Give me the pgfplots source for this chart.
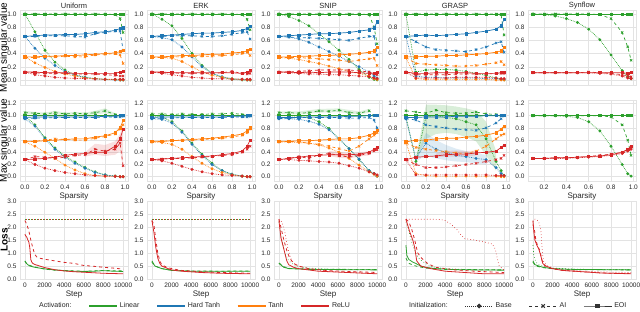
\documentclass[border=0pt]{standalone}
\usepackage{pgfplots}
\pgfplotsset{compat=1.18}
\usepackage{pgfplotstable}
\usepackage{fontspec}
\setmainfont{Liberation Sans}
\definecolor{cL}{HTML}{2CA02C}
\definecolor{cH}{HTML}{1F77B4}
\definecolor{cT}{HTML}{FF7F0E}
\definecolor{cR}{HTML}{D62728}

\pgfplotsset{
 every axis title shift=0pt,
 bas/.style={line width=0.7pt, densely dotted, mark=*, mark size=1.1pt, mark options={solid}},
 ai/.style={line width=0.7pt, dashed, mark=x, mark size=1.6pt, mark options={solid}},
 eo/.style={line width=0.7pt, solid, mark=square*, mark size=1.1pt},
 lb/.style={line width=0.7pt, dash pattern=on 0.6pt off 2.4pt},
 la/.style={line width=0.8pt, dashed},
 le/.style={line width=0.8pt, solid},
 panel/.style={scale only axis, width=108pt, anchor=south west,
   grid=major, major grid style={gray!22, line width=0.5pt},
   axis line style={gray!22}, tick style={draw=none},
   ticklabel style={font=\fontsize{6.5}{7}\selectfont, text=black!85},
   /pgf/number format/assume math mode=true,
   label style={font=\fontsize{8}{9}\selectfont, text=black!85},
   every axis y label/.style={at={(axis description cs:-0.145,0.5)}, anchor=center, rotate=90},
   title style={font=\fontsize{7.5}{8}\selectfont, inner sep=0pt, anchor=south, yshift=1.2pt, text=black!85},
   yticklabel style={/pgf/number format/.cd, fixed, fixed zerofill, precision=1},
 },
 sx/.style={xmin=-0.049, xmax=1.029, xtick={0,0.2,0.4,0.6,0.8,1},
   xticklabel style={/pgf/number format/.cd, fixed, fixed zerofill, precision=1}},
 sy/.style={xmin=0.056, xmax=1.024, xtick={0.2,0.4,0.6,0.8,1},
   xticklabel style={/pgf/number format/.cd, fixed, fixed zerofill, precision=1}},
 row1/.style={height=75pt, ymin=-0.076, ymax=1.06, ytick={0,0.2,0.4,0.6,0.8,1}, xticklabels={}},
 row2/.style={height=81pt, ymin=-0.07, ymax=1.257, ytick={0,0.2,0.4,0.6,0.8,1,1.2}, xlabel={Sparsity}, xlabel style={yshift=3pt}},
 row3/.style={height=78pt, ymin=0, ymax=3, ytick={0,0.5,1,1.5,2,2.5,3}, xmin=-500, xmax=10500,
   xtick={0,2000,4000,6000,8000,10000}, scaled x ticks=false,
   xticklabel style={/pgf/number format/.cd, 1000 sep={}}, xlabel={Step}, xlabel style={yshift=3pt}},
}

\newcommand{\panel}[1]{%
 \addplot[cL,bas] table[x=x,y=LB]{#1};
 \addplot[cL,ai] table[x=x,y=LA]{#1};
 \addplot[cL,eo] table[x=x,y=LE]{#1};
 \addplot[cH,bas] table[x=x,y=HB]{#1};
 \addplot[cH,ai] table[x=x,y=HA]{#1};
 \addplot[cH,eo] table[x=x,y=HE]{#1};
 \addplot[cT,bas] table[x=x,y=TB]{#1};
 \addplot[cT,ai] table[x=x,y=TA]{#1};
 \addplot[cT,eo] table[x=x,y=TE]{#1};
 \addplot[cR,bas] table[x=x,y=RB]{#1};
 \addplot[cR,ai] table[x=x,y=RA]{#1};
 \addplot[cR,eo] table[x=x,y=RE]{#1};
}
\newcommand{\panelLR}[1]{%
 \addplot[cL,bas] table[x=x,y=LB]{#1};
 \addplot[cL,ai] table[x=x,y=LA]{#1};
 \addplot[cL,eo] table[x=x,y=LE]{#1};
 \addplot[cR,bas] table[x=x,y=RB]{#1};
 \addplot[cR,ai] table[x=x,y=RA]{#1};
 \addplot[cR,eo] table[x=x,y=RE]{#1};
}

% ---------- Mean singular value ----------
\pgfplotstableread{
x    LB    LA   LE HB   HA   HE   TB    TA   TE   RB    RA   RE
0    1.00  1    1  0.66 0.66 0.66 0.35  0.34 0.35 0.12  0.12 0.12
0.1  0.73  1    1  0.48 0.66 0.67 0.26  0.34 0.35 0.08  0.11 0.12
0.2  0.45  1    1  0.33 0.67 0.68 0.19  0.35 0.36 0.06  0.10 0.11
0.3  0.27  1    1  0.22 0.67 0.68 0.13  0.35 0.36 0.04  0.10 0.11
0.4  0.15  1    1  0.13 0.67 0.69 0.09  0.36 0.37 0.03  0.10 0.11
0.5  0.08  1    1  0.07 0.66 0.69 0.06  0.35 0.37 0.025 0.09 0.10
0.6  0.04  1    1  0.04 0.65 0.70 0.03  0.35 0.38 0.02  0.09 0.10
0.7  0.02  1    1  0.02 0.70 0.72 0.02  0.38 0.39 0.015 0.09 0.10
0.8  0.01  1    1  0.01 0.72 0.73 0.01  0.39 0.40 0.01  0.08 0.10
0.9  0.005 0.99 1  0    0.74 0.75 0.005 0.40 0.41 0.01  0.07 0.10
0.95 0     0.93 1  0    0.74 0.78 0     0.38 0.43 0.01  0.06 0.12
0.98 0     0.72 1  0    0.45 0.79 0     0.25 0.45 0.01  0.06 0.13
}\mU
\pgfplotstableread{
x    LB    LA   LE HB   HA   HE   TB    TA   TE   RB    RA   RE
0    1.00  1    1  0.66 0.66 0.66 0.35  0.34 0.35 0.12  0.12 0.12
0.1  0.92  1    1  0.64 0.66 0.67 0.34  0.34 0.35 0.10  0.11 0.12
0.2  0.82  1    1  0.61 0.67 0.68 0.33  0.35 0.36 0.08  0.11 0.11
0.3  0.63  1    1  0.50 0.67 0.69 0.28  0.35 0.37 0.06  0.10 0.11
0.4  0.40  1    1  0.35 0.67 0.70 0.20  0.36 0.37 0.04  0.10 0.11
0.5  0.22  1    1  0.20 0.66 0.71 0.12  0.36 0.38 0.03  0.10 0.11
0.6  0.10  1    1  0.10 0.66 0.71 0.07  0.36 0.39 0.02  0.10 0.11
0.7  0.04  1    1  0.05 0.67 0.72 0.04  0.37 0.39 0.02  0.11 0.11
0.8  0.01  1    1  0.02 0.69 0.73 0.02  0.38 0.41 0.01  0.13 0.11
0.9  0     0.99 1  0.01 0.72 0.75 0.01  0.40 0.42 0.01  0.10 0.10
0.95 0     0.92 1  0    0.73 0.78 0     0.42 0.44 0.01  0.09 0.12
0.98 0     0.76 1  0    0.62 0.81 0     0.37 0.46 0.01  0.10 0.14
}\mE
\pgfplotstableread{
x    LB    LA   LE HB   HA   HE   TB    TA   TE   RB    RA   RE
0    1.00  1    1  0.66 0.66 0.66 0.34  0.34 0.35 0.12  0.12 0.12
0.1  0.96  1    1  0.65 0.65 0.67 0.33  0.34 0.35 0.11  0.12 0.12
0.2  0.90  1    1  0.62 0.64 0.68 0.31  0.34 0.36 0.10  0.13 0.11
0.3  0.82  1    1  0.57 0.64 0.69 0.28  0.33 0.36 0.09  0.14 0.12
0.4  0.70  1    1  0.50 0.63 0.70 0.25  0.32 0.37 0.09  0.15 0.11
0.5  0.58  1    1  0.43 0.62 0.70 0.21  0.31 0.37 0.08  0.15 0.12
0.6  0.45  1    1  0.36 0.61 0.71 0.17  0.30 0.38 0.08  0.15 0.12
0.7  0.31  1    1  0.28 0.60 0.72 0.13  0.28 0.39 0.07  0.15 0.12
0.8  0.16  1    1  0.20 0.63 0.74 0.10  0.30 0.40 0.06  0.14 0.11
0.9  0.04  0.99 1  0.12 0.66 0.76 0.06  0.32 0.42 0.05  0.12 0.10
0.95 0.01  0.80 1  0.06 0.66 0.79 0.02  0.33 0.44 0.03  0.10 0.10
0.98 0     0.55 1  0.03 0.38 0.88 0.01  0.22 0.50 0.02  0.08 0.11
}\mS
\pgfplotstableread{
x    LB    LA   LE HB   HA   HE   TB    TA   TE   RB    RA   RE
0    1.00  1    1  0.66 0.66 0.66 0.34  0.34 0.35 0.12  0.12 0.12
0.1  0.12  1    1  0.06 0.58 0.67 0.02  0.25 0.35 0.03  0.08 0.10
0.2  0.15  1    1  0.04 0.50 0.68 0.01  0.24 0.36 0.03  0.08 0.10
0.3  0.16  1    1  0.04 0.46 0.67 0.01  0.23 0.36 0.03  0.08 0.11
0.4  0.16  1    1  0.03 0.45 0.68 0.01  0.22 0.37 0.03  0.08 0.11
0.5  0.15  1    1  0.03 0.44 0.69 0.01  0.21 0.37 0.04  0.09 0.11
0.6  0.13  1    1  0.03 0.43 0.70 0.01  0.21 0.38 0.04  0.09 0.11
0.7  0.10  1    1  0.03 0.46 0.72 0.01  0.22 0.39 0.04  0.09 0.10
0.8  0.07  1    1  0.02 0.50 0.74 0.01  0.24 0.40 0.04  0.09 0.10
0.9  0.03  1    1  0.02 0.56 0.77 0     0.26 0.42 0.03  0.10 0.10
0.95 0.01  0.99 1  0.01 0.58 0.82 0     0.28 0.44 0.02  0.10 0.11
0.98 0     0.68 1  0.01 0.42 0.92 0     0.23 0.49 0.02  0.10 0.12
}\mG
\pgfplotstableread{
x    LB    LA   LE RB   RA   RE
0.1  1.00  1    1  0.11 0.11 0.11
0.2  0.99  1    1  0.11 0.11 0.11
0.3  0.97  1    1  0.11 0.11 0.11
0.4  0.93  1    1  0.11 0.11 0.11
0.5  0.87  1    1  0.11 0.11 0.11
0.6  0.77  1    1  0.11 0.12 0.11
0.7  0.61  0.99 1  0.10 0.11 0.11
0.8  0.38  0.93 1  0.09 0.10 0.11
0.9  0.14  0.72 1  0.06 0.08 0.11
0.95 0.05  0.50 1  0.03 0.06 0.10
0.98 0.02  0.30 1  0.02 0.05 0.12
}\mY

% ---------- Max singular value ----------
\pgfplotstableread{
x    LB   LA   LE HB   HA   HE   TB   TA   TE   RB    RA   RE
0    1.00 1.05 1  0.95 0.95 0.97 0.57 0.57 0.58 0.28  0.28 0.28
0.1  0.85 1.04 1  0.83 0.96 0.98 0.50 0.58 0.58 0.20  0.33 0.29
0.2  0.64 1.03 1  0.62 0.96 0.98 0.40 0.60 0.59 0.14  0.32 0.30
0.3  0.47 1.05 1  0.45 0.97 0.98 0.30 0.62 0.60 0.10  0.30 0.32
0.4  0.34 1.03 1  0.32 0.97 0.98 0.19 0.61 0.61 0.07  0.32 0.35
0.5  0.24 1.04 1  0.22 0.97 0.98 0.11 0.60 0.62 0.05  0.35 0.37
0.6  0.15 1.03 1  0.14 0.97 0.98 0.05 0.60 0.62 0.03  0.36 0.38
0.7  0.08 1.05 1  0.07 0.97 0.98 0.02 0.63 0.65 0.02  0.45 0.40
0.8  0.03 1.08 1  0.03 0.98 0.99 0.01 0.66 0.67 0.01  0.42 0.40
0.9  0.01 1.02 1  0.01 0.98 0.99 0.01 0.70 0.72 0.005 0.45 0.50
0.95 0    1.00 1  0    0.98 1.00 0    0.78 0.80 0     0.55 0.62
0.98 0    1.00 1  0    0.99 1.00 0    0.85 0.92 0     0.18 0.78
}\xU
\pgfplotstableread{
x    LB   LA   LE HB   HA   HE   TB   TA   TE   RB    RA   RE
0    1.00 1.03 1  0.95 0.95 0.97 0.57 0.57 0.58 0.28  0.28 0.28
0.1  0.98 1.03 1  0.94 0.96 0.98 0.56 0.58 0.58 0.26  0.29 0.29
0.2  0.90 1.02 1  0.88 0.96 0.98 0.53 0.59 0.59 0.22  0.30 0.30
0.3  0.75 1.03 1  0.73 0.97 0.98 0.45 0.60 0.60 0.17  0.30 0.31
0.4  0.55 1.02 1  0.53 0.97 0.98 0.33 0.60 0.61 0.12  0.31 0.32
0.5  0.37 1.02 1  0.35 0.97 0.98 0.22 0.61 0.62 0.08  0.32 0.33
0.6  0.22 1.03 1  0.20 0.97 0.98 0.13 0.62 0.63 0.05  0.33 0.34
0.7  0.10 1.03 1  0.10 0.97 0.98 0.07 0.63 0.65 0.03  0.35 0.36
0.8  0.04 1.04 1  0.04 0.98 0.99 0.03 0.65 0.67 0.02  0.36 0.38
0.9  0.01 1.02 1  0.01 0.98 0.99 0.01 0.68 0.70 0.01  0.40 0.42
0.95 0    1.00 1  0    0.98 1.00 0    0.72 0.75 0     0.45 0.50
0.98 0    1.00 1  0    0.99 1.00 0    0.78 0.80 0     0.50 0.60
}\xE
\pgfplotstableread{
x    LB   LA   LE HB   HA   HE   TB   TA   TE   RB   RA   RE
0    1.00 1.05 1  0.95 0.95 0.97 0.57 0.57 0.58 0.28 0.28 0.28
0.1  1.00 1.05 1  0.95 0.96 0.97 0.57 0.58 0.58 0.28 0.30 0.30
0.2  0.99 1.04 1  0.94 0.97 0.97 0.56 0.57 0.59 0.27 0.33 0.32
0.3  0.97 1.05 1  0.91 0.97 0.98 0.55 0.55 0.59 0.26 0.30 0.34
0.4  0.90 1.08 1  0.86 0.97 0.98 0.52 0.53 0.60 0.25 0.36 0.35
0.5  0.79 1.07 1  0.77 0.97 0.98 0.47 0.50 0.61 0.24 0.38 0.36
0.6  0.62 1.09 1  0.62 0.97 0.98 0.40 0.46 0.62 0.22 0.35 0.36
0.7  0.46 1.05 1  0.46 0.96 0.99 0.30 0.42 0.62 0.18 0.32 0.36
0.8  0.28 1.04 1  0.29 0.96 0.99 0.19 0.50 0.64 0.14 0.35 0.37
0.9  0.10 1.08 1  0.10 0.97 1.00 0.08 0.62 0.68 0.08 0.38 0.40
0.95 0.05 1.00 1  0.05 0.93 1.00 0.04 0.68 0.72 0.05 0.42 0.45
0.98 0.01 1.00 1  0.01 0.80 1.00 0.01 0.72 0.76 0.03 0.44 0.48
}\xS
\pgfplotstableread{
x    LB   LA   LE HB   HA   HE   TB   TA   TE   RB   RA   RE
0    1.00 1.08 1  0.95 0.95 0.97 0.57 0.55 0.57 0.28 0.28 0.28
0.1  0.25 1.06 1  0.30 0.93 0.97 0.05 0.48 0.60 0.03 0.20 0.32
0.2  0.98 1.04 1  0.55 0.85 0.98 0.02 0.45 0.60 0.03 0.15 0.33
0.3  1.00 1.09 1  0.45 0.82 0.98 0.01 0.43 0.62 0.03 0.15 0.34
0.4  0.97 1.05 1  0.40 0.80 0.98 0.01 0.41 0.63 0.03 0.16 0.36
0.5  0.95 1.04 1  0.35 0.78 0.99 0.01 0.39 0.63 0.03 0.18 0.37
0.6  0.90 1.04 1  0.33 0.77 0.99 0.01 0.38 0.65 0.03 0.20 0.37
0.7  0.85 1.06 1  0.30 0.76 0.99 0.01 0.42 0.66 0.03 0.22 0.39
0.8  0.62 1.03 1  0.28 0.80 1.00 0.01 0.50 0.68 0.03 0.25 0.40
0.9  0.25 1.02 1  0.15 0.88 1.00 0.01 0.62 0.72 0.02 0.28 0.42
0.95 0.10 1.00 1  0.05 0.95 1.00 0    0.68 0.78 0.02 0.30 0.48
0.98 0.02 1.00 1  0.01 1.00 1.00 0    0.70 0.83 0.02 0.35 0.52
}\xG
\pgfplotstableread{
x    LB   LA   LE RB   RA   RE
0.1  1.00 1.00 1  0.30 0.30 0.30
0.2  1.00 1.00 1  0.30 0.30 0.30
0.3  1.00 1.00 1  0.30 0.31 0.31
0.4  0.99 1.00 1  0.30 0.31 0.31
0.5  0.97 1.00 1  0.31 0.32 0.32
0.6  0.90 1.00 1  0.32 0.33 0.33
0.7  0.75 1.00 1  0.33 0.35 0.34
0.8  0.50 0.98 1  0.35 0.37 0.36
0.9  0.20 0.85 1  0.38 0.40 0.40
0.95 0.05 0.60 1  0.42 0.45 0.45
0.98 0.01 0.35 1  0.45 0.48 0.50
}\xY

\begin{document}
\begin{tikzpicture}
% ================= Row 1 =================
\begin{axis}[panel, sx, row1, at={(20pt,226pt)}, title={Uniform}, ylabel={Mean singular value}]
\panel{\mU}
\end{axis}
\begin{axis}[panel, sx, row1, at={(147pt,226pt)}, title={ERK}]
\panel{\mE}
\end{axis}
\begin{axis}[panel, sx, row1, at={(274pt,226pt)}, title={SNIP}]
\panel{\mS}
\end{axis}
\begin{axis}[panel, sx, row1, at={(401pt,226pt)}, title={GRASP}]
\panel{\mG}
\end{axis}
\begin{axis}[panel, sy, row1, at={(528pt,226pt)}, title={Synflow}]
\panelLR{\mY}
\end{axis}
% ================= Row 2 =================
\begin{axis}[panel, sx, row2, at={(20pt,130pt)}, ylabel={Max singular value}]
\addplot[fill=cL, fill opacity=0.15, draw=none] coordinates {(0,1.02) (0.1,1.02) (0.2,1.01) (0.3,1.02) (0.4,1.01) (0.5,1.02) (0.6,1.01) (0.7,1.02) (0.8,1.04) (0.9,1.0) (0.9,1.04) (0.8,1.12) (0.7,1.08) (0.6,1.05) (0.5,1.06) (0.4,1.05) (0.3,1.08) (0.2,1.05) (0.1,1.06) (0,1.08)};
\addplot[fill=cR, fill opacity=0.15, draw=none] coordinates {(0.6,0.33) (0.7,0.36) (0.8,0.34) (0.9,0.36) (0.95,0.42) (0.98,0.12) (0.98,0.85) (0.95,0.7) (0.9,0.58) (0.8,0.52) (0.7,0.54) (0.6,0.40)};
\panel{\xU}
\end{axis}
\begin{axis}[panel, sx, row2, at={(147pt,130pt)}]
\panel{\xE}
\end{axis}
\begin{axis}[panel, sx, row2, at={(274pt,130pt)}]
\addplot[fill=cL, fill opacity=0.15, draw=none] coordinates {(0,1.03) (0.2,1.02) (0.4,1.05) (0.6,1.06) (0.8,1.02) (0.9,1.05) (0.9,1.11) (0.8,1.07) (0.6,1.12) (0.4,1.11) (0.2,1.07) (0,1.07)};
\addplot[fill=cR, fill opacity=0.15, draw=none] coordinates {(0.5,0.34) (0.6,0.31) (0.7,0.3) (0.8,0.33) (0.9,0.35) (0.9,0.42) (0.8,0.4) (0.7,0.38) (0.6,0.41) (0.5,0.42)};
\panel{\xS}
\end{axis}
\begin{axis}[panel, sx, row2, at={(401pt,130pt)}]
\addplot[fill=cL, fill opacity=0.18, draw=none] coordinates {(0.1,0.25) (0.2,0.62) (0.3,0.7) (0.4,0.72) (0.5,0.7) (0.6,0.65) (0.7,0.58) (0.8,0.35) (0.9,0.1) (0.9,0.42) (0.8,0.9) (0.7,1.08) (0.6,1.12) (0.5,1.15) (0.4,1.17) (0.3,1.18) (0.2,1.18) (0.1,0.3)};
\addplot[fill=cH, fill opacity=0.15, draw=none] coordinates {(0.1,0.25) (0.2,0.35) (0.3,0.3) (0.4,0.27) (0.5,0.25) (0.6,0.24) (0.7,0.22) (0.8,0.2) (0.8,0.36) (0.7,0.38) (0.6,0.42) (0.5,0.46) (0.4,0.52) (0.3,0.6) (0.2,0.72) (0.1,0.35)};
\addplot[fill=cR, fill opacity=0.15, draw=none] coordinates {(0.3,0.32) (0.4,0.33) (0.5,0.33) (0.6,0.33) (0.7,0.35) (0.7,0.43) (0.6,0.42) (0.5,0.43) (0.4,0.42) (0.3,0.38)};
\panel{\xG}
\end{axis}
\begin{axis}[panel, sy, row2, at={(528pt,130pt)}]
\panelLR{\xY}
\end{axis}
% ================= Row 3 =================
\begin{axis}[panel, row3, at={(20pt,32pt)}, ylabel={\bfseries Loss}]
\addplot[cL,lb] coordinates {(0,2.30) (5000,2.30) (10000,2.30)};
\addplot[cR,lb, dash phase=1.5pt] coordinates {(0,2.30) (5000,2.30) (10000,2.30)};
\addplot[cL,la] coordinates {(0,0.68) (300,0.55) (1000,0.46) (2000,0.38) (3000,0.34) (4000,0.33) (5000,0.31) (6000,0.30) (7000,0.31) (8000,0.33) (9000,0.32) (10000,0.31)};
\addplot[cL,le] coordinates {(0,0.70) (100,0.62) (300,0.55) (500,0.50) (1000,0.45) (1500,0.42) (2000,0.39) (3000,0.35) (4000,0.32) (5000,0.30) (6000,0.29) (7000,0.30) (8000,0.32) (9000,0.30) (10000,0.29)};
\addplot[cR,la] coordinates {(0,2.25) (200,2.10) (400,1.85) (600,1.50) (800,1.20) (1000,0.95) (1200,0.85) (1500,0.80) (2000,0.76) (3000,0.70) (4000,0.64) (5000,0.60) (6000,0.52) (7000,0.49) (8000,0.45) (9000,0.42) (10000,0.38)};
\addplot[cR,le] coordinates {(0,1.72) (100,1.65) (200,1.60) (300,1.50) (400,1.42) (500,1.20) (600,0.75) (700,0.65) (800,0.60) (1000,0.56) (1500,0.50) (2000,0.44) (2500,0.40) (3000,0.36) (4000,0.31) (5000,0.28) (6000,0.26) (7000,0.24) (8000,0.22) (9000,0.21) (10000,0.20)};
\end{axis}
\begin{axis}[panel, row3, at={(147pt,32pt)}]
\addplot[cL,lb] coordinates {(0,2.30) (5000,2.30) (10000,2.30)};
\addplot[cR,lb, dash phase=1.5pt] coordinates {(0,2.30) (5000,2.30) (10000,2.30)};
\addplot[cL,la] coordinates {(0,0.65) (300,0.50) (1000,0.40) (2000,0.34) (4000,0.31) (7000,0.30) (10000,0.31)};
\addplot[cL,le] coordinates {(0,0.70) (300,0.50) (1000,0.40) (2000,0.33) (4000,0.30) (7000,0.30) (10000,0.30)};
\addplot[cR,la] coordinates {(0,2.25) (200,2.10) (400,1.50) (600,1.00) (800,0.70) (1000,0.55) (1500,0.45) (2000,0.40) (3000,0.33) (5000,0.28) (7000,0.25) (10000,0.22)};
\addplot[cR,le] coordinates {(0,2.25) (200,1.80) (400,1.20) (600,0.80) (800,0.60) (1000,0.50) (1500,0.42) (2000,0.35) (3000,0.30) (5000,0.25) (7000,0.22) (10000,0.20)};
\end{axis}
\begin{axis}[panel, row3, at={(274pt,32pt)}]
\addplot[cL,lb] coordinates {(0,2.20) (300,1.50) (600,1.00) (1000,0.70) (1500,0.55) (2000,0.48) (3000,0.42) (5000,0.38) (10000,0.36)};
\addplot[cL,la] coordinates {(0,0.62) (500,0.47) (1000,0.41) (3000,0.38) (10000,0.36)};
\addplot[cL,le] coordinates {(0,0.60) (500,0.45) (1000,0.40) (3000,0.37) (10000,0.35)};
\addplot[cR,lb] coordinates {(0,2.30) (300,2.20) (600,1.80) (900,1.20) (1200,0.80) (1500,0.60) (2000,0.50) (3000,0.40) (5000,0.30) (7000,0.25) (10000,0.22)};
\addplot[cR,la] coordinates {(0,2.30) (200,2.00) (500,1.50) (800,1.10) (1100,0.80) (1500,0.60) (2000,0.50) (3000,0.40) (5000,0.32) (10000,0.25)};
\addplot[cR,le] coordinates {(0,2.25) (200,1.60) (400,1.30) (600,1.00) (800,0.70) (1000,0.55) (1500,0.45) (2000,0.40) (4000,0.30) (7000,0.25) (10000,0.20)};
\end{axis}
\begin{axis}[panel, row3, at={(401pt,32pt)}]
\addplot[cL,lb] coordinates {(0,2.20) (200,2.00) (400,1.70) (600,1.40) (800,1.20) (1000,1.00) (1300,0.80) (1600,0.70) (2000,0.60) (2500,0.50) (3000,0.45) (4000,0.40) (6000,0.37) (8000,0.36) (10000,0.35)};
\addplot[cL,la] coordinates {(0,0.80) (300,0.60) (1000,0.50) (2000,0.42) (4000,0.37) (10000,0.35)};
\addplot[cL,le] coordinates {(0,1.30) (100,0.90) (300,0.75) (700,0.65) (1000,0.60) (1500,0.50) (2000,0.45) (3000,0.40) (5000,0.36) (7000,0.35) (10000,0.34)};
\addplot[cR,lb] coordinates {(0,2.30) (2000,2.30) (3500,2.29) (4000,2.25) (4600,2.10) (5200,1.90) (5600,1.70) (6000,1.55) (7000,1.50) (8000,1.42) (8800,1.35) (9100,1.15) (9300,0.80) (9500,0.50) (10000,0.35)};
\addplot[cR,la] coordinates {(0,2.30) (300,2.20) (600,1.90) (900,1.50) (1200,1.00) (1600,0.80) (2200,0.60) (3000,0.45) (5000,0.35) (7000,0.30) (10000,0.25)};
\addplot[cR,le] coordinates {(0,2.30) (400,1.80) (700,1.50) (900,1.20) (1100,0.70) (1500,0.50) (2500,0.40) (4000,0.30) (6000,0.25) (8000,0.20) (10000,0.20)};
\end{axis}
\begin{axis}[panel, row3, at={(528pt,32pt)}]
\addplot[cL,lb] coordinates {(0,1.30) (100,0.90) (300,0.65) (600,0.55) (1000,0.50) (2000,0.42) (4000,0.38) (7000,0.36) (10000,0.36)};
\addplot[cL,la] coordinates {(0,0.65) (300,0.50) (1000,0.44) (2000,0.39) (4000,0.36) (10000,0.35)};
\addplot[cL,le] coordinates {(0,0.70) (200,0.55) (600,0.50) (1000,0.45) (2000,0.40) (4000,0.37) (7000,0.36) (10000,0.35)};
\addplot[cR,lb] coordinates {(0,2.20) (200,2.30) (400,2.28) (600,2.20) (800,1.90) (900,1.40) (1000,0.90) (1100,0.65) (1500,0.50) (2000,0.42) (3000,0.37) (5000,0.30) (7000,0.27) (10000,0.25)};
\addplot[cR,la] coordinates {(0,2.10) (150,1.90) (300,1.50) (500,1.25) (700,1.10) (900,0.75) (1100,0.55) (1500,0.45) (2000,0.40) (3000,0.33) (5000,0.28) (7000,0.23) (10000,0.21)};
\addplot[cR,le] coordinates {(0,2.25) (100,1.80) (200,1.50) (400,1.30) (600,1.15) (800,0.90) (1000,0.60) (1300,0.50) (2000,0.40) (3000,0.33) (5000,0.28) (7000,0.23) (10000,0.20)};
\end{axis}
% ================= Legends =================
\begin{axis}[at={(37pt,0pt)}, anchor=south west, scale only axis, width=300pt, height=10pt, hide axis,
  xmin=0, xmax=1, ymin=0, ymax=1, legend columns=-1,
  legend style={at={(0,0.5)}, anchor=west, draw=none, fill=none, inner sep=0pt,
    font=\fontsize{7}{8}\selectfont, text=black!85,
    /tikz/every even column/.append style={column sep=15pt}},
  legend image code/.code={\draw[mark repeat=2, mark phase=2, #1] plot coordinates {(0pt,0pt) (14pt,0pt) (28pt,0pt)};}]
\addlegendimage{empty legend}\addlegendentry{Activation:}
\addlegendimage{cL, line width=1.4pt}\addlegendentry{Linear}
\addlegendimage{cH, line width=1.4pt}\addlegendentry{Hard Tanh}
\addlegendimage{cT, line width=1.4pt}\addlegendentry{Tanh}
\addlegendimage{cR, line width=1.4pt}\addlegendentry{ReLU}
\end{axis}
\begin{axis}[at={(407pt,0pt)}, anchor=south west, scale only axis, width=220pt, height=10pt, hide axis,
  xmin=0, xmax=1, ymin=0, ymax=1, legend columns=-1,
  legend style={at={(0,0.5)}, anchor=west, draw=none, fill=none, inner sep=0pt,
    font=\fontsize{7}{8}\selectfont, text=black!85,
    /tikz/every even column/.append style={column sep=15pt}},
  legend image code/.code={\draw[mark repeat=2, mark phase=2, #1] plot coordinates {(0pt,0pt) (14pt,0pt) (28pt,0pt)};}]
\addlegendimage{empty legend}\addlegendentry{Initialization:}
\addlegendimage{black!80, line width=1pt, densely dotted, mark=*, mark size=1.8pt, mark options={solid}}\addlegendentry{Base}
\addlegendimage{black!80, line width=1pt, dashed, mark=x, mark size=2.4pt, mark options={solid}}\addlegendentry{AI}
\addlegendimage{black!80, line width=1pt, solid, mark=square*, mark size=1.8pt}\addlegendentry{EOI}
\end{axis}
\pgfresetboundingbox
\useasboundingbox (0,0) rectangle (640pt,311pt);
\end{tikzpicture}
\end{document}
